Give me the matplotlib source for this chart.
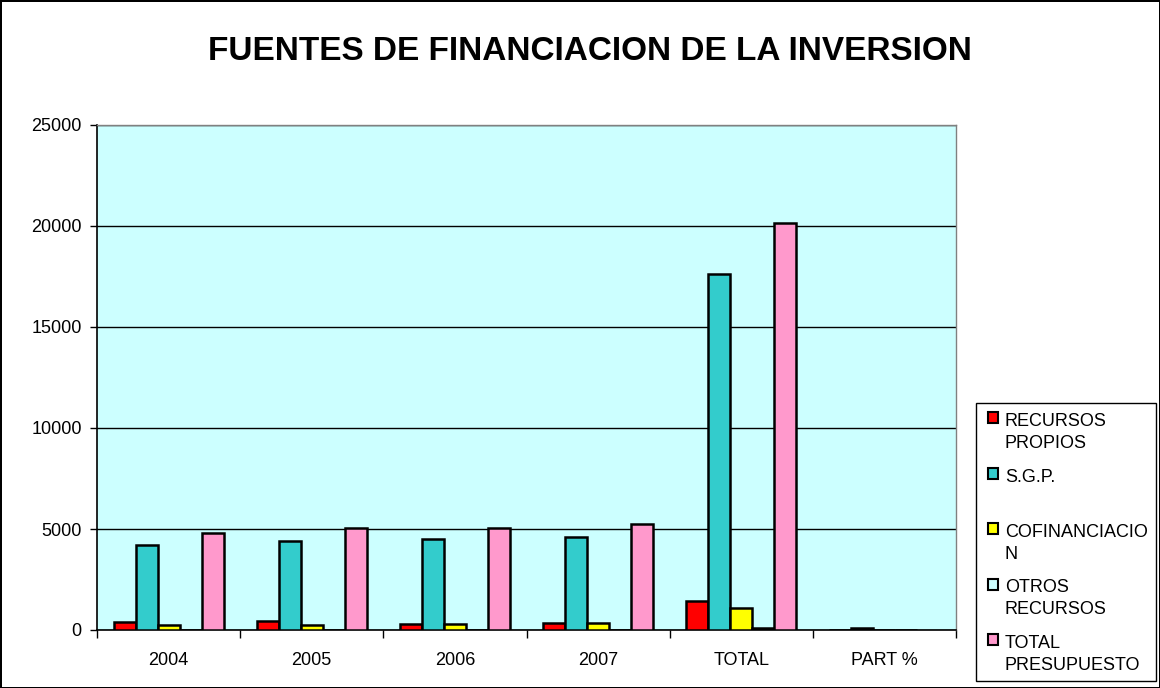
import matplotlib
matplotlib.use("Agg")
import matplotlib.pyplot as plt
from matplotlib.patches import Rectangle
import numpy as np

plt.rcParams['font.family'] = ['Liberation Sans', 'DejaVu Sans']

# data
categories = ['2004', '2005', '2006', '2007', 'TOTAL', 'PART %']
recursos_propios = [380, 450, 310, 330, 1450, 7]
sgp = [4200, 4400, 4500, 4600, 17600, 88]
cofinanciacion = [230, 250, 310, 330, 1070, 5]
otros_recursos = [0, 0, 0, 0, 80, 0]
total_presupuesto = [4800, 5050, 5050, 5250, 20150, np.nan]

series_names = ['RECURSOS\nPROPIOS', 'S.G.P.', 'COFINANCIACIO\nN',
                'OTROS\nRECURSOS', 'TOTAL\nPRESUPUESTO']
series_values = [recursos_propios, sgp, cofinanciacion, otros_recursos, total_presupuesto]
colors = ['#FF0000', '#33CCCC', '#FFFF00', '#CCFFFF', '#FF99CC']

W, H = 1160, 688
fig = plt.figure(figsize=(W / 100, H / 100), dpi=100)
fig.patch.set_facecolor('white')
fig.patch.set_edgecolor('black')
fig.patch.set_linewidth(2)

# plot area in pixels: left 97, right 956, top 125, bottom 630
ax = fig.add_axes([97 / W, 1 - 630 / H, (956 - 97) / W, (630 - 125) / H])
ax.set_facecolor('#CCFFFF')

x = np.arange(len(categories))
w = 1 / 6.5
for i, (vals, col) in enumerate(zip(series_values, colors)):
    ax.bar(x + (i - 2) * w, vals, width=w, color=col, edgecolor='black',
           linewidth=1.8, zorder=3)

ax.set_xlim(-0.5, len(categories) - 0.5)
ax.set_ylim(0, 25000)
ax.set_yticks(range(0, 25001, 5000))
ax.yaxis.grid(True, color='black', linewidth=1)
ax.set_axisbelow(True)

# tick marks on group boundaries, labels in the middle
ax.set_xticks(np.arange(-0.5, len(categories), 1))
ax.set_xticklabels([])
ax.set_xticks(x, minor=True)
ax.set_xticklabels(categories, minor=True)
ax.tick_params(axis='x', which='major', length=6, width=1, direction='out', color='black')
ax.tick_params(axis='x', which='minor', length=0, pad=16, labelsize=13)
ax.tick_params(axis='y', length=5, width=1, direction='out', pad=6, labelsize=13)

for s in ['top', 'right']:
    ax.spines[s].set_color('#808080')
    ax.spines[s].set_linewidth(1)
for s in ['left', 'bottom']:
    ax.spines[s].set_color('black')
    ax.spines[s].set_linewidth(1.2)

fig.text(590 / W, 1 - 52 / H, 'FUENTES DE FINANCIACION DE LA INVERSION',
         ha='center', va='center', fontsize=24, fontweight='bold')

# legend drawn by hand, Excel style
fig.add_artist(Rectangle((976 / W, 1 - 681 / H), (1156 - 976) / W, (681 - 403) / H,
                         transform=fig.transFigure, facecolor='white',
                         edgecolor='black', linewidth=1))
for i, (name, col) in enumerate(zip(series_names, colors)):
    top = 412 + i * 55.5
    fig.add_artist(Rectangle((988 / W, 1 - (top + 11) / H), 10 / W, 11 / H,
                             transform=fig.transFigure, facecolor=col,
                             edgecolor='black', linewidth=1.5))
    for j, line in enumerate(name.split('\n')):
        fig.text(1005 / W, 1 - (top + 14 + j * 22) / H, line,
                 ha='left', va='baseline', fontsize=13)

fig.savefig('out.png', dpi=100)
